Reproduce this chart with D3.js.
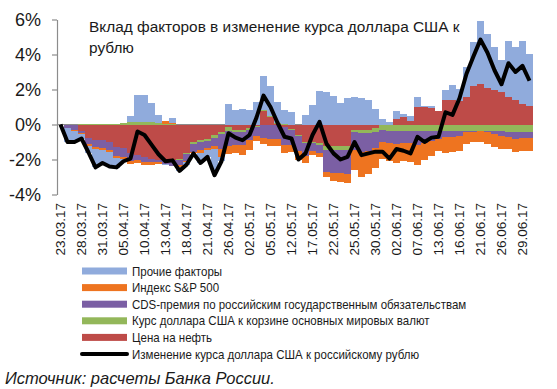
<!DOCTYPE html>
<html>
<head>
<meta charset="utf-8">
<script src="https://cdn.jsdelivr.net/npm/d3@7"></script>
<style>
  body { margin: 0; background: #fff; }
  svg { display: block; font-family: "Liberation Sans", Arial, sans-serif; }
</style>
</head>
<body>
<svg width="557" height="389"></svg>
<script>
// dates (Russian business days), one column each
var dates = ["23.03.17","24.03.17","27.03.17","28.03.17","29.03.17","30.03.17","31.03.17",
  "03.04.17","04.04.17","05.04.17","06.04.17","07.04.17","10.04.17","11.04.17","12.04.17","13.04.17","14.04.17",
  "17.04.17","18.04.17","19.04.17","20.04.17","21.04.17","24.04.17","25.04.17","26.04.17","27.04.17","28.04.17",
  "02.05.17","03.05.17","04.05.17","05.05.17","10.05.17","11.05.17","12.05.17","15.05.17","16.05.17","17.05.17",
  "18.05.17","19.05.17","22.05.17","23.05.17","24.05.17","25.05.17","26.05.17","29.05.17","30.05.17","31.05.17",
  "01.06.17","02.06.17","05.06.17","06.06.17","07.06.17","08.06.17","09.06.17","13.06.17","14.06.17","15.06.17",
  "16.06.17","19.06.17","20.06.17","21.06.17","22.06.17","23.06.17","26.06.17","27.06.17","28.06.17","29.06.17","30.06.17"];

// factor contributions, %
var oil = [0,-0.05,-0.05,-0.35,-0.75,-0.9,-0.9,-1.0,-1.3,-1.35,-1.6,-1.75,-1.85,-1.95,-2.0,-2.0,-2.0,
  -1.95,-1.6,-1.0,-0.9,-0.8,-0.6,-0.4,-0.15,-0.3,-0.3,-0.2,-0.1,0.8,0.45,0.05,-0.15,-0.25,-0.6,-1.0,-1.0,
  -1.05,-1.2,-1.2,-1.2,-1.2,-0.3,-0.3,-0.3,-0.2,0,0,0.3,0.45,0.2,1.0,1.0,0.95,0.75,1.4,1.4,
  1.35,1.6,2.2,2.3,2.1,2.0,1.85,1.55,1.4,1.2,1.05];
var usd = [0,0,0,0.02,0.02,0.03,0.03,0.04,0.05,0.08,0.12,0.15,0.15,0.12,0.08,0.03,0.02,
  -0.05,-0.1,-0.1,-0.12,-0.12,-0.15,-0.15,-0.2,-0.15,-0.12,-0.1,-0.05,0.05,0.05,0.04,0.02,-0.05,-0.05,-0.05,-0.08,
  -0.1,-0.25,-0.25,-0.25,-0.25,-0.15,-0.2,-0.2,-0.25,-0.3,-0.35,-0.35,-0.35,-0.35,-0.35,-0.35,-0.35,-0.35,-0.35,-0.35,
  -0.35,-0.35,-0.35,-0.35,-0.35,-0.35,-0.35,-0.4,-0.4,-0.4,-0.4];
var cds = [0,-0.15,-0.25,-0.15,-0.35,-0.4,-0.45,-0.45,-0.5,-0.5,-0.5,-0.3,-0.3,-0.2,-0.15,-0.25,-0.35,
  -0.3,-0.4,-0.45,-0.45,-0.45,-0.5,-0.85,-0.85,-0.7,-0.75,-0.6,-0.5,-0.75,-0.85,-0.85,-1.0,-0.85,-0.85,-0.75,-0.45,
  -0.45,-1.25,-1.3,-1.3,-1.35,-1.0,-1.05,-1.0,-0.9,-0.7,-0.7,-0.75,-0.7,-0.7,-0.8,-0.7,-0.6,-0.5,-0.35,-0.35,
  -0.3,-0.1,-0.05,-0.03,-0.05,-0.2,-0.3,-0.3,-0.4,-0.35,-0.35];
var sp = [0,0,-0.05,-0.05,-0.1,-0.1,-0.1,-0.1,-0.1,-0.1,-0.15,-0.15,-0.15,-0.15,-0.1,0.18,0.05,
  -0.1,-0.05,-0.1,-0.15,-0.1,-0.15,-0.45,-0.5,-0.45,-0.6,-0.55,-0.3,-0.35,-0.35,-0.4,-0.45,-0.4,-0.5,-0.4,-0.2,
  -0.25,-0.3,-0.45,-0.55,-0.55,-1.15,-1.45,-1.3,-1.15,-0.95,-1.05,-1.1,-1.05,-1.1,-1.15,-1.0,-0.85,-0.65,-0.95,-0.85,
  -0.85,-0.65,-0.6,-0.62,-0.7,-0.75,-0.75,-0.7,-0.75,-0.75,-0.75];
var other = [0,-0.8,-0.65,-0.25,-0.45,-1.05,-0.8,-0.9,-0.6,-0.2,0.35,1.55,1.55,1.1,0.45,-0.05,0.28,
  -0.25,-0.15,0,-0.6,-0.4,-1.2,-0.25,1.2,0.85,0.9,0.85,1.3,1.95,1.7,1.2,0.83,0.73,0,0.55,1.1,
  1.93,1.84,1.63,1.25,1.5,1.6,1.5,1.4,0.9,0.3,0.15,0.5,0.15,0.3,0.6,0.05,0.1,0.05,0.6,0.85,
  0.7,1.7,2.5,3.6,3.1,2.45,1.85,3.25,3.05,3.6,3.0];
// USD/RUB change, %
var usdrub = [0,-1.0,-1.0,-0.8,-1.6,-2.45,-2.2,-2.4,-2.45,-2.1,-1.95,-0.4,-0.6,-1.15,-1.7,-2.1,-2.05,
  -2.65,-2.3,-1.65,-2.2,-1.85,-2.9,-2.1,-0.5,-0.75,-0.9,-0.6,0.4,1.65,1.0,0.1,-0.7,-0.8,-2.0,-1.65,-0.6,
  0.15,-1.1,-1.65,-2.0,-1.85,-1.0,-1.75,-1.65,-1.55,-1.55,-1.95,-1.4,-1.5,-1.65,-0.7,-1.0,-0.75,-0.7,0.7,0.55,
  1.5,2.9,3.9,4.85,4.1,3.1,2.3,3.5,3.0,3.35,2.5];

var yTicks = [-4, -2, 0, 2, 4, 6];

var keys = ["oil", "usd", "cds", "sp", "other"];
var colors = {oil: "#be4b48", usd: "#93b75a", cds: "#7b5fa4", sp: "#ee7420", other: "#90abdc"};
var names = {
  other: "Прочие факторы",
  sp: "Индекс S&P 500",
  cds: "CDS-премия по российским государственным обязательствам",
  usd: "Курс доллара США к корзине основных мировых валют",
  oil: "Цена на нефть"
};

var rows = dates.map(function(d, i){
  return {date: d, oil: oil[i], usd: usd[i], cds: cds[i], sp: sp[i], other: other[i], line: usdrub[i]};
});

var svg = d3.select("svg");

var x = d3.scaleBand().domain(dates).range([57, 533]).padding(0);
var y = d3.scaleLinear().domain([-4, 6]).range([194.5, 19.5]);

// zero line
svg.append("line")
  .attr("x1", 57).attr("x2", 533)
  .attr("y1", y(0)).attr("y2", y(0))
  .attr("stroke", "#8c8c8c").attr("stroke-width", 1.2);

var series = d3.stack().keys(keys).offset(d3.stackOffsetDiverging)(rows);

svg.append("g").selectAll("g")
  .data(series)
  .enter().append("g")
  .attr("fill", function(s){ return colors[s.key]; })
  .selectAll("rect")
  .data(function(s){ return s; })
  .enter().append("rect")
  .attr("shape-rendering", "crispEdges")
  .attr("x", function(d){ return x(d.data.date); })
  .attr("width", x.bandwidth())
  .attr("y", function(d){ return y(Math.max(d[0], d[1])); })
  .attr("height", function(d){ return Math.abs(y(d[0]) - y(d[1])); });

var line = d3.line()
  .x(function(d){ return x(d.date) + x.bandwidth() / 2; })
  .y(function(d){ return y(d.line); });

svg.append("path")
  .datum(rows)
  .attr("d", line)
  .attr("fill", "none")
  .attr("stroke", "#000")
  .attr("stroke-width", 4)
  .attr("stroke-linejoin", "round");

// y axis
var yAxis = svg.append("g")
  .attr("transform", "translate(57,0)")
  .call(d3.axisLeft(y).tickValues(yTicks).tickFormat(function(d){ return d + "%"; })
    .tickSize(5).tickSizeOuter(0).tickPadding(11));
yAxis.select(".domain").attr("stroke", "#8c8c8c").attr("stroke-width", 1.2);
yAxis.selectAll(".tick line").attr("stroke", "#8c8c8c").attr("stroke-width", 1.2);
yAxis.selectAll("text").attr("font-size", 18).attr("fill", "#1a1a1a")
  .style("font-family", "'Liberation Sans', Arial, sans-serif");

// x axis labels
var xAxis = svg.append("g")
  .attr("transform", "translate(0,203)")
  .call(d3.axisBottom(x).tickValues(dates.filter(function(d, i){ return i % 3 === 0; })).tickSize(0));
xAxis.select(".domain").remove();
xAxis.selectAll("text")
  .attr("transform", "rotate(-90)")
  .attr("x", 0).attr("y", 0).attr("dy", "0.36em")
  .attr("text-anchor", "end")
  .attr("font-size", 13.5).attr("fill", "#1a1a1a")
  .style("font-family", "'Liberation Sans', Arial, sans-serif");

// title
var title = svg.append("text").attr("x", 89).attr("y", 32)
  .attr("font-size", 15.4).attr("fill", "#1a1a1a");
title.append("tspan").attr("x", 89).text("Вклад факторов в изменение курса доллара США к");
title.append("tspan").attr("x", 89).attr("dy", 21).text("рублю");

// legend (text squeezed a little, the original uses a narrow face)
var legendKeys = ["other", "sp", "cds", "usd", "oil"];
var lg = svg.append("g");
legendKeys.forEach(function(k, i){
  var cy = 271 + i * 16.6;
  lg.append("rect").attr("x", 82).attr("y", cy - 3.5).attr("width", 45).attr("height", 7)
    .attr("fill", colors[k]);
  lg.append("text").attr("transform", "translate(132," + cy + ") scale(0.886,1)")
    .attr("dy", "0.35em")
    .attr("font-size", 13).attr("fill", "#1a1a1a").text(names[k]);
});
var ly = 271 + 5 * 16.6;
lg.append("line").attr("x1", 82).attr("x2", 127).attr("y1", ly).attr("y2", ly)
  .attr("stroke", "#000").attr("stroke-width", 4).attr("stroke-linecap", "round");
lg.append("text").attr("transform", "translate(132," + ly + ") scale(0.886,1)")
  .attr("dy", "0.35em")
  .attr("font-size", 13).attr("fill", "#1a1a1a").text("Изменение курса доллара США к российскому рублю");

// source
svg.append("text").attr("x", 5).attr("y", 384)
  .attr("font-size", 16.5).attr("font-style", "italic").attr("fill", "#1a1a1a")
  .text("Источник: расчеты Банка России.");
</script>
</body>
</html>
